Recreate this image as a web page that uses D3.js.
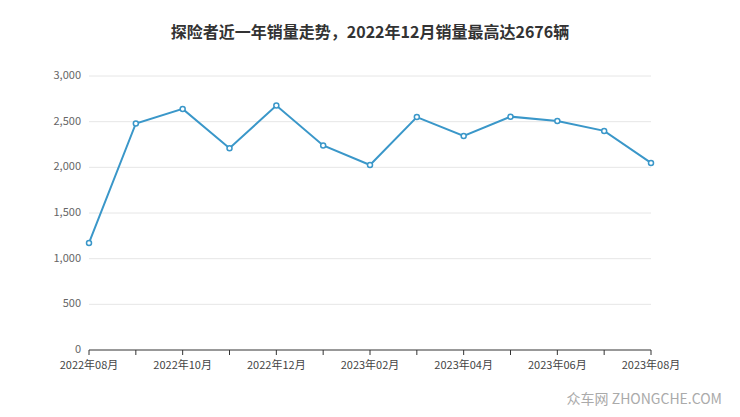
<!DOCTYPE html>
<html><head><meta charset="utf-8">
<script src="https://cdn.jsdelivr.net/npm/d3@7"></script>
<style>body{margin:0;background:#fff;font-family:"Noto Sans CJK SC","Noto Sans",sans-serif}</style>
</head><body><svg id="c" width="740" height="417"></svg>
<script>
const months=["2022年08月","2022年09月","2022年10月","2022年11月","2022年12月","2023年01月","2023年02月","2023年03月","2023年04月","2023年05月","2023年06月","2023年07月","2023年08月"];
const sales=[1172,2480,2640,2210,2676,2240,2026,2550,2344,2555,2508,2399,2048];
const yTicks=[0,500,1000,1500,2000,2500,3000];
const title="探险者近一年销量走势，2022年12月销量最高达2676辆";
const svg=d3.select("#c");
const L=89,R=651,T=76,B=350;
const x=d3.scalePoint().domain(months).range([L,R]);
const y=d3.scaleLinear().domain([0,3000]).range([B,T]);
svg.append("text").attr("x",370).attr("y",38).attr("text-anchor","middle").attr("font-size",16).attr("font-weight","bold").attr("fill","#333").text(title);
const g=svg.append("g");
yTicks.forEach(t=>{
 g.append("line").attr("x1",L).attr("x2",R).attr("y1",y(t)).attr("y2",y(t)).attr("stroke",t?"#e6e6e6":"#333");
 g.append("text").attr("x",L-8).attr("y",y(t)+3).attr("text-anchor","end").attr("font-size",11).attr("fill","#666").text(d3.format(",")(t));
});
months.forEach((m,i)=>{
 g.append("line").attr("x1",x(m)).attr("x2",x(m)).attr("y1",B).attr("y2",B+5).attr("stroke","#333");
 if(i%2==0) g.append("text").attr("x",x(m)).attr("y",B+19).attr("text-anchor","middle").attr("font-size",11).attr("fill","#444").text(m);
});
const line=d3.line().x((d,i)=>x(months[i])).y(d=>y(d));
g.append("path").attr("d",line(sales)).attr("fill","none").attr("stroke","#3a97c9").attr("stroke-width",2);
g.selectAll("circle").data(sales).enter().append("circle").attr("cx",(d,i)=>x(months[i])).attr("cy",d=>y(d)).attr("r",2.5).attr("fill","#fff").attr("stroke","#3a97c9").attr("stroke-width",1.5);
svg.append("text").attr("x",722).attr("y",404).attr("text-anchor","end").attr("font-size",14).attr("fill","#aaa").text("众车网 ZHONGCHE.COM");
</script></body></html>
